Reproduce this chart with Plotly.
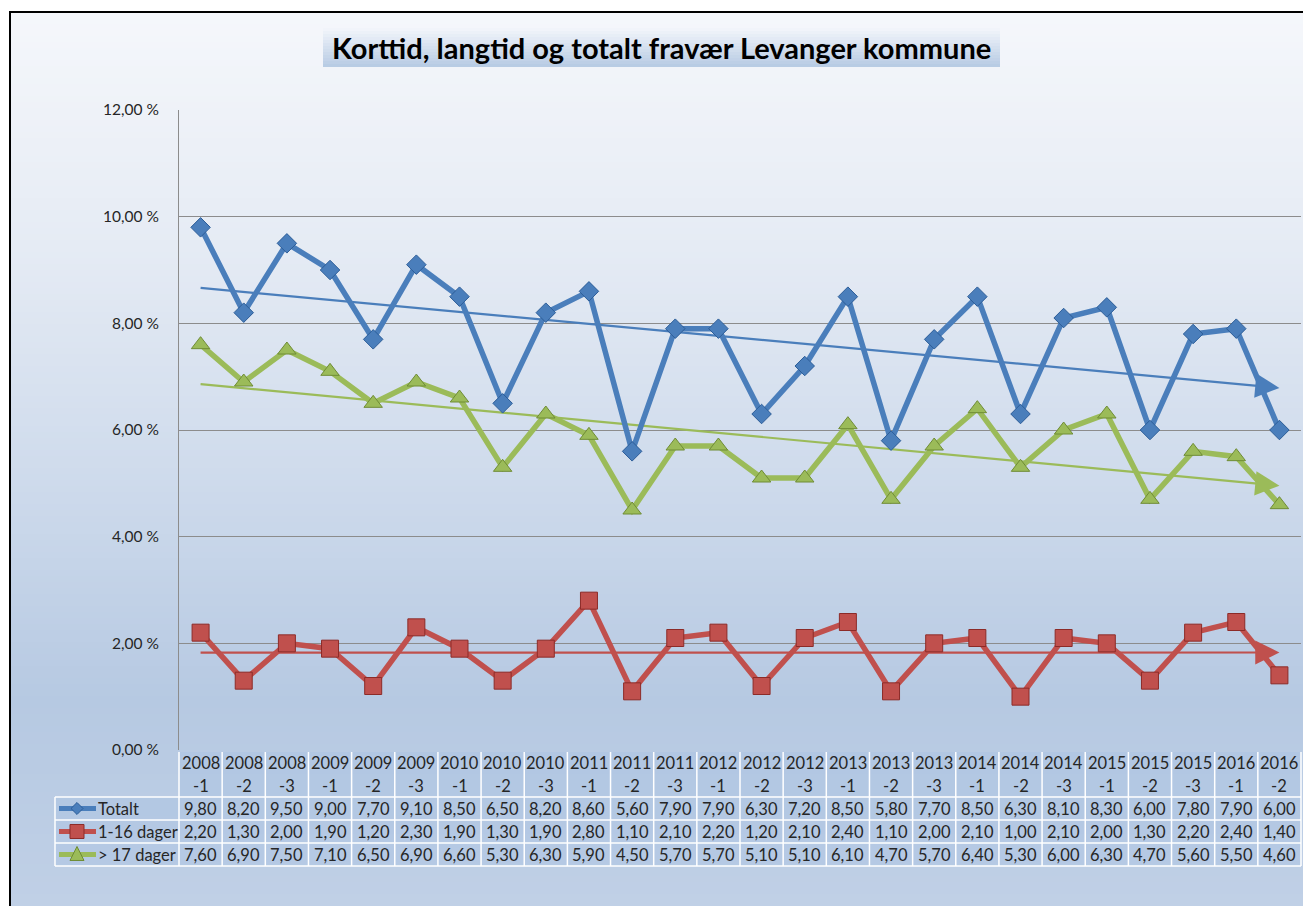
import numpy as np
import plotly.graph_objects as go

# ---------------- data ----------------
periods = ["2008-1", "2008-2", "2008-3", "2009-1", "2009-2", "2009-3",
           "2010-1", "2010-2", "2010-3", "2011-1", "2011-2", "2011-3",
           "2012-1", "2012-2", "2012-3", "2013-1", "2013-2", "2013-3",
           "2014-1", "2014-2", "2014-3", "2015-1", "2015-2", "2015-3",
           "2016-1", "2016-2"]
totalt = [9.80, 8.20, 9.50, 9.00, 7.70, 9.10, 8.50, 6.50, 8.20, 8.60,
          5.60, 7.90, 7.90, 6.30, 7.20, 8.50, 5.80, 7.70, 8.50, 6.30,
          8.10, 8.30, 6.00, 7.80, 7.90, 6.00]
korttid = [2.20, 1.30, 2.00, 1.90, 1.20, 2.30, 1.90, 1.30, 1.90, 2.80,
           1.10, 2.10, 2.20, 1.20, 2.10, 2.40, 1.10, 2.00, 2.10, 1.00,
           2.10, 2.00, 1.30, 2.20, 2.40, 1.40]
langtid = [7.60, 6.90, 7.50, 7.10, 6.50, 6.90, 6.60, 5.30, 6.30, 5.90,
           4.50, 5.70, 5.70, 5.10, 5.10, 6.10, 4.70, 5.70, 6.40, 5.30,
           6.00, 6.30, 4.70, 5.60, 5.50, 4.60]
series_names = ["Totalt", "1-16 dager", "> 17 dager"]
y_tickvals = [0, 2, 4, 6, 8, 10, 12]
y_ticktext = ["0,00 %", "2,00 %", "4,00 %", "6,00 %", "8,00 %", "10,00 %", "12,00 %"]
title_text = "Korttid, langtid og totalt fravær Levanger kommune"

# ---------------- styling ----------------
W, H = 1303, 906
L, R, T, B = 179, 2, 110, 156
PW, PH = W - L - R, H - T - B
FONT = "Lato"
TXT = "#262626"

colors = ["#4a7ebb", "#c0504d", "#9bbb59"]
edge = ["#2c5d98", "#8c2b28", "#6f8c35"]
symbols = ["diamond", "square", "triangle-up"]
msize = [15, 17, 16]


def pxx(x):
    return (x - L) / PW


def pxy(y):
    return (H - B - y) / PH


def hex2rgb(h):
    h = h.lstrip("#")
    return [int(h[i:i + 2], 16) for i in (0, 2, 4)]


def lerp_color(stops, y):
    for (y0, c0), (y1, c1) in zip(stops[:-1], stops[1:]):
        if y0 <= y <= y1:
            t = (y - y0) / (y1 - y0) if y1 > y0 else 0
            a, b = hex2rgb(c0), hex2rgb(c1)
            return "rgb(%d,%d,%d)" % tuple(round(a[i] + (b[i] - a[i]) * t) for i in range(3))
    return stops[-1][1]


fig = go.Figure()
xs = list(range(len(periods)))
all_series = [totalt, korttid, langtid]
annotations = []
shapes = []

# trend lines (linear least squares, like Excel's linear trendline)
for k, vals in enumerate(all_series):
    a, b = np.polyfit(xs, vals, 1)
    fig.add_trace(go.Scatter(x=[xs[0], xs[-1] - 0.2], y=[a * xs[0] + b, a * (xs[-1] - 0.2) + b],
                             mode="lines", line=dict(color=colors[k], width=2.2),
                             showlegend=False, hoverinfo="skip"))
    x_end, x_tail = xs[-1], xs[-1] - 0.5
    annotations.append(dict(x=x_end, y=a * x_end + b, ax=x_tail, ay=a * x_tail + b,
                            xref="x", yref="y", axref="x", ayref="y", text="",
                            showarrow=True, arrowhead=2, arrowsize=2.2, arrowwidth=2.2,
                            arrowcolor=colors[k], standoff=0))

# main series
for k, vals in enumerate(all_series):
    fig.add_trace(go.Scatter(x=xs, y=vals, mode="lines+markers", name=series_names[k],
                             line=dict(color=colors[k], width=5.5),
                             marker=dict(symbol=symbols[k], size=msize[k], color=colors[k],
                                         line=dict(color=edge[k], width=1)),
                             showlegend=False))

# background gradient
stops = [(12, "#f5f7fb"), (250, "#e5ebf4"), (500, "#ccd9eb"), (700, "#b6c9e2"), (906, "#c0d0e6")]
step = 6
for y0 in range(12, H, step):
    shapes.append(dict(type="rect", xref="paper", yref="paper", layer="below",
                       x0=pxx(10), x1=pxx(W + 10), y0=pxy(y0), y1=pxy(min(y0 + step, H + 5)),
                       fillcolor=lerp_color(stops, y0 + step / 2), line=dict(width=0)))

# title box gradient
tstops = [(28, "#f3f6fb"), (67, "#b6cae3")]
for y0 in range(28, 67, 3):
    shapes.append(dict(type="rect", xref="paper", yref="paper", layer="below",
                       x0=pxx(323), x1=pxx(1000), y0=pxy(y0), y1=pxy(min(y0 + 3, 67)),
                       fillcolor=lerp_color(tstops, y0 + 1.5), line=dict(width=0)))

# outer border
shapes.append(dict(type="rect", xref="paper", yref="paper", layer="above",
                   x0=pxx(10), x1=pxx(W + 20), y0=pxy(12), y1=pxy(H + 20),
                   fillcolor="rgba(0,0,0,0)", line=dict(color="#000000", width=2)))

# ---------------- data table ----------------
hdr_top, hdr_bot = 752, 796
row_h = 23
rows_top = hdr_bot + 1
tab_bot = rows_top + 3 * row_h
lab_left = 55
cell_fill = "rgba(170,195,226,0.45)"
shapes.append(dict(type="rect", xref="paper", yref="paper", layer="below",
                   x0=pxx(L), x1=pxx(W - R), y0=pxy(hdr_top), y1=pxy(hdr_bot),
                   fillcolor=cell_fill, line=dict(width=0)))
shapes.append(dict(type="rect", xref="paper", yref="paper", layer="below",
                   x0=pxx(lab_left), x1=pxx(W - R), y0=pxy(rows_top), y1=pxy(tab_bot),
                   fillcolor=cell_fill, line=dict(width=0)))
col_w = PW / len(periods)
for i in range(len(periods) + 1):
    xp = L + i * col_w
    shapes.append(dict(type="line", xref="paper", yref="paper", layer="above",
                       x0=pxx(xp), x1=pxx(xp), y0=pxy(hdr_top), y1=pxy(tab_bot),
                       line=dict(color="#ffffff", width=1.5)))
shapes.append(dict(type="line", xref="paper", yref="paper", layer="above",
                   x0=pxx(lab_left), x1=pxx(lab_left), y0=pxy(rows_top), y1=pxy(tab_bot),
                   line=dict(color="#ffffff", width=1.5)))
for yy in [rows_top, rows_top + row_h, rows_top + 2 * row_h, tab_bot]:
    shapes.append(dict(type="line", xref="paper", yref="paper", layer="above",
                       x0=pxx(lab_left), x1=pxx(W - R), y0=pxy(yy), y1=pxy(yy),
                       line=dict(color="#ffffff", width=1.5)))

TFS = 16.5
for i, p in enumerate(periods):
    yr, q = p.split("-")
    for txt, yc in ((yr, 763), ("-" + q, 786)):
        annotations.append(dict(x=i, y=pxy(yc), xref="x", yref="paper",
                                xanchor="center", yanchor="middle",
                                text=txt, showarrow=False,
                                font=dict(family=FONT, size=TFS, color=TXT)))
for r, vals in enumerate(all_series):
    yc = rows_top + r * row_h + row_h / 2
    for i, v in enumerate(vals):
        annotations.append(dict(x=i, y=pxy(yc), xref="x", yref="paper",
                                xanchor="center", yanchor="middle",
                                text=("%.2f" % v).replace(".", ","), showarrow=False,
                                font=dict(family=FONT, size=TFS, color=TXT)))
    annotations.append(dict(x=pxx(96), y=pxy(yc), xref="paper", yref="paper",
                            xanchor="left", yanchor="middle",
                            text=series_names[r], showarrow=False,
                            font=dict(family=FONT, size=TFS, color=TXT)))
    shapes.append(dict(type="line", xref="paper", yref="paper", layer="above",
                       x0=pxx(59), x1=pxx(96), y0=pxy(yc), y1=pxy(yc),
                       line=dict(color=colors[r], width=5)))
    cx, cy = 77, yc
    if r == 0:
        pts = [(cx, cy - 6), (cx + 6, cy), (cx, cy + 6), (cx - 6, cy)]
    elif r == 1:
        pts = [(cx - 7, cy - 7), (cx + 7, cy - 7), (cx + 7, cy + 7), (cx - 7, cy + 7)]
    else:
        pts = [(cx, cy - 8), (cx + 7, cy + 6), (cx - 7, cy + 6)]
    path = "M " + " L ".join("%f,%f" % (pxx(a), pxy(b)) for a, b in pts) + " Z"
    shapes.append(dict(type="path", xref="paper", yref="paper", layer="above", path=path,
                       fillcolor=colors[r], line=dict(color=edge[r], width=1)))

# title
annotations.append(dict(x=pxx(661), y=pxy(47), xref="paper", yref="paper",
                        xanchor="center", yanchor="middle",
                        text="<b>" + title_text + "</b>",
                        showarrow=False, font=dict(family=FONT, size=29, color="#000000")))

fig.update_layout(
    width=W, height=H,
    margin=dict(l=L, r=R, t=T, b=B),
    paper_bgcolor="#ffffff", plot_bgcolor="rgba(0,0,0,0)",
    showlegend=False,
    shapes=shapes, annotations=annotations,
    font=dict(family=FONT, color=TXT),
)
fig.update_xaxes(range=[-0.5, len(periods) - 0.5], showgrid=False, zeroline=False,
                 showticklabels=False, ticks="", showline=False)
fig.update_yaxes(range=[0, 12], tickvals=y_tickvals, ticktext=y_ticktext,
                 showgrid=True, gridcolor="#8c8c8c", gridwidth=1, zeroline=False,
                 showline=True, linecolor="#8c8c8c", linewidth=1, mirror=False,
                 ticks="", ticklabelstandoff=16,
                 tickfont=dict(family=FONT, size=15.5, color=TXT))

fig.write_html("out.html", config={"displayModeBar": False},
               post_script="document.body.style.margin='0';"
                           "document.documentElement.style.overflow='hidden';"
                           "document.body.style.overflow='hidden';")
